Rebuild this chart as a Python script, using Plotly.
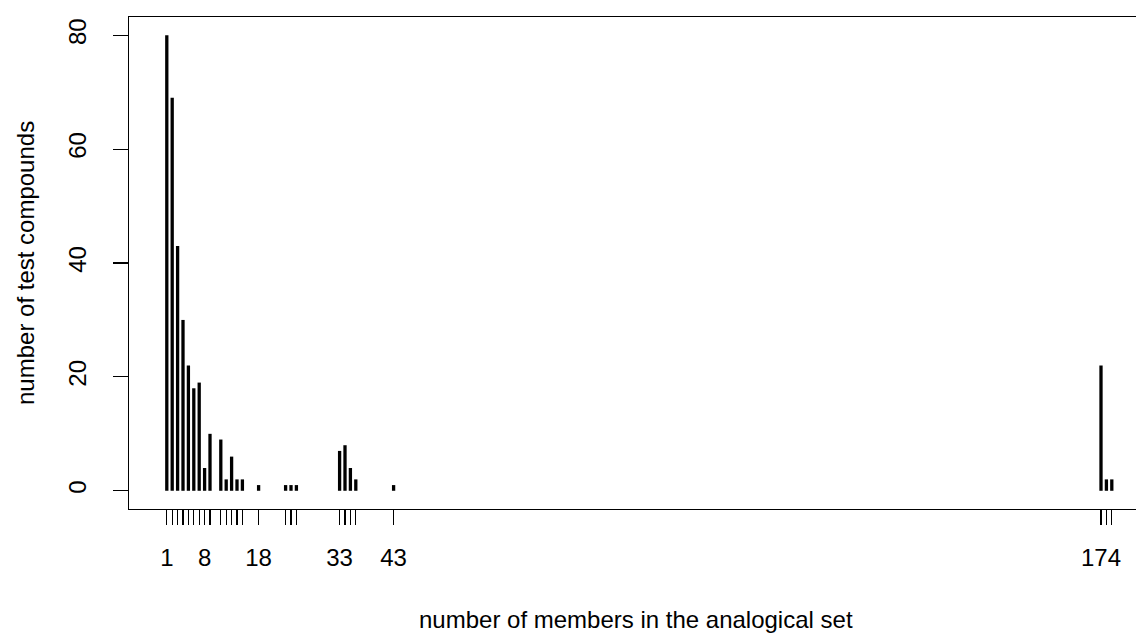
import plotly.graph_objects as go

# data
members = [1, 2, 3, 4, 5, 6, 7, 8, 9, 11, 12, 13, 14, 15, 18, 23, 24, 25,
           33, 34, 35, 36, 43, 174, 175, 176]
counts = [80, 69, 43, 30, 22, 18, 19, 4, 10, 9, 2, 6, 2, 2, 1, 1, 1, 1,
          7, 8, 4, 2, 1, 22, 2, 2]
labelled = [1, 8, 18, 33, 43, 174]
y_ticks = [0, 20, 40, 60, 80]

x_title = "number of members in the analogical set"
y_title = "number of test compounds"

# build vertical "type h" segments from the data
xs, ys = [], []
for m, c in zip(members, counts):
    xs += [m, m, None]
    ys += [0, c, None]

FONT = "Liberation Sans, Arial, sans-serif"
FS = 24
L, T, B = 129, 17, 124
W, H = 1136, 633
plot_w = W - L

fig = go.Figure()
fig.add_trace(go.Scatter(x=xs, y=ys, mode="lines",
                         line=dict(color="black", width=3.3),
                         hoverinfo="skip", showlegend=False))

fig.update_layout(
    width=W, height=H, autosize=False,
    margin=dict(l=L, r=0, t=T, b=B, pad=0),
    paper_bgcolor="white", plot_bgcolor="white",
    font=dict(family=FONT, size=FS, color="black"),
    showlegend=False,
)
fig.update_xaxes(
    range=[-6.0, -6.0 + plot_w / 5.4], showgrid=False, zeroline=False,
    showline=True, mirror=True, linecolor="black", linewidth=1.2,
    ticks="outside", ticklen=15, tickwidth=1.2, tickcolor="black",
    tickvals=members,
    ticktext=[str(m) if m in labelled else "" for m in members],
    tickfont=dict(family=FONT, size=FS, color="black"),
    ticklabelstandoff=12,
)
fig.update_yaxes(
    range=[-3.2, 83.2], showgrid=False, zeroline=False,
    showline=True, mirror=False, linecolor="black", linewidth=1.2,
    ticks="outside", ticklen=15, tickwidth=1.2, tickcolor="black",
    tickvals=y_ticks, ticktext=[str(v) for v in y_ticks],
    tickangle=-90,
    tickfont=dict(family=FONT, size=FS, color="black"),
    ticklabelstandoff=17,
)
# R centres the axis title on the (wider, partly off-page) plot region
fig.add_annotation(text=x_title, xref="paper", yref="paper",
                   x=(636 - L) / plot_w, y=0,
                   yshift=-110, showarrow=False, xanchor="center", yanchor="middle",
                   font=dict(family=FONT, size=FS, color="black"))
fig.add_annotation(text=y_title, xref="paper", yref="paper", x=0, y=0.5,
                   xshift=-104, showarrow=False, textangle=-90,
                   xanchor="center", yanchor="middle",
                   font=dict(family=FONT, size=FS, color="black"))

fig.write_html("out.html",
               config={"displayModeBar": False, "staticPlot": True},
               post_script="document.body.style.margin='0px';"
                           "document.body.style.overflow='hidden';")
